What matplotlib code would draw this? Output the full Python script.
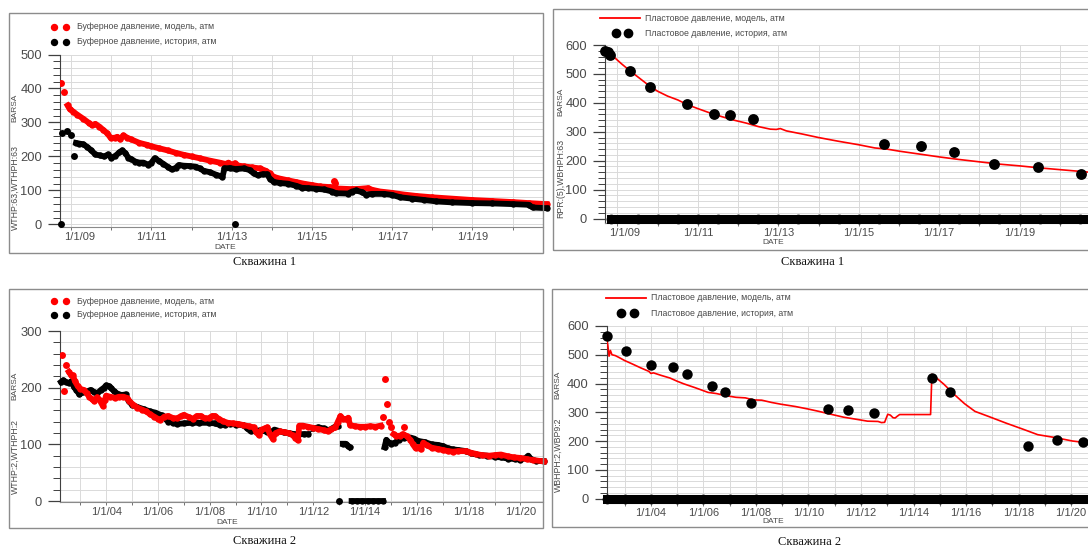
import numpy as np
import matplotlib
matplotlib.use("Agg")
import matplotlib.pyplot as plt
import matplotlib.transforms as mtransforms
from matplotlib.lines import Line2D
from matplotlib.patches import Rectangle
from matplotlib.ticker import MultipleLocator, FixedLocator, FuncFormatter

nan = np.nan
W, H = 1088, 548

# ======================= DATA (decimal years, atm) =======================
# ---- Well 1: tubing-head pressure ----
w1_thp_model_t = [2008.91, 2008.96, 2009.05, 2009.15, 2009.30, 2009.45, 2009.52, 2009.60, 2009.70, 2009.80,
                  2009.90, 2009.98, 2010.08, 2010.15, 2010.22, 2010.30, 2010.40, 2010.50, 2010.70, 2010.90,
                  2011.00, 2011.20, 2011.40, 2011.60, 2011.80, 2012.00, 2012.20, 2012.45, 2012.70, 2012.85,
                  2012.92, 2013.00, 2013.08, 2013.12, 2013.30, 2013.50, 2013.70, 2013.85, 2013.95, 2014.05,
                  2014.20, 2014.40, 2014.60, 2014.80, 2015.00, 2015.20, 2015.45, 2015.60, 2015.80, 2016.00,
                  2016.20, 2016.40, 2016.50, 2016.70, 2017.00, 2017.30, 2017.60, 2018.00, 2018.50, 2019.00,
                  2019.50, 2020.00, 2020.40, 2020.85]
w1_thp_model_v = [350, 340, 332, 323, 311, 298, 292, 296, 288, 278,
                  268, 255, 255, 258, 250, 262, 255, 250, 240, 234,
                  230, 224, 218, 211, 205, 200, 195, 188, 182, 178,
                  182, 176, 180, 174, 171, 168, 165, 158, 150, 140,
                  135, 130, 125, 120, 116, 112, 110, 106, 105, 104,
                  105, 107, 102, 97, 93, 88, 84, 80, 76, 72,
                  69, 66, 63, 60]
w1_thp_model_single_t = [2008.75, 2008.83, 2015.55, 2015.58]
w1_thp_model_single_v = [415, 390, 128, 122]

w1_thp_hist_t = [2009.12, 2009.20, 2009.30, 2009.40, 2009.50, 2009.60, 2009.72, 2009.82, 2009.92, 2010.00,
                 2010.10, 2010.20, 2010.27, 2010.35, 2010.42, 2010.50, 2010.60, 2010.70, 2010.80, 2010.92,
                 2011.00, 2011.08, 2011.20, 2011.30, 2011.40, 2011.50, 2011.60, 2011.68, 2011.80, 2011.95,
                 2012.10, 2012.20, 2012.30, 2012.45, 2012.60, 2012.77, 2012.82, 2012.95, 2013.10, 2013.30,
                 2013.45, 2013.55, 2013.65, 2013.78, 2013.88, 2013.95, 2014.05, 2014.20, 2014.40, 2014.60,
                 2014.75, 2014.90, 2015.10, 2015.30, 2015.50, 2015.60, 2015.90, 2016.00, 2016.10, 2016.25,
                 2016.35, 2016.50, 2016.80, 2017.00, 2017.20, 2017.50, 2017.80, 2018.10, 2018.50, 2019.00,
                 2019.50, 2020.00, 2020.40, 2020.50, 2020.85]
w1_thp_hist_v = [240, 238, 236, 228, 218, 206, 203, 200, 206, 196,
                 202, 212, 218, 210, 197, 192, 185, 182, 182, 176,
                 182, 195, 186, 178, 170, 162, 166, 175, 173, 172,
                 170, 165, 158, 154, 147, 140, 165, 166, 163, 165,
                 160, 150, 145, 148, 148, 135, 125, 122, 120, 114,
                 108, 107, 105, 103, 97, 92, 91, 97, 100, 95,
                 88, 90, 90, 87, 80, 76, 72, 68, 65, 63,
                 62, 60, 58, 50, 48]
w1_thp_hist_single_t = [2008.75, 2008.78, 2008.89, 2009.00, 2009.07, 2013.08]
w1_thp_hist_single_v = [0, 268, 275, 262, 200, 0]

# ---- Well 1: reservoir pressure ----
w1_rp_model_t = [2008.70, 2008.90, 2009.10, 2009.30, 2009.55, 2009.80, 2010.00, 2010.25, 2010.50, 2010.75,
                 2011.00, 2011.30, 2011.60, 2011.90, 2012.20, 2012.50, 2012.80, 2012.95, 2013.05, 2013.20,
                 2013.60, 2014.00, 2014.50, 2015.00, 2015.40, 2015.70, 2016.00, 2016.50, 2017.00, 2017.50,
                 2018.00, 2018.50, 2019.00, 2019.50, 2020.00, 2020.50, 2020.90]
w1_rp_model_v = [582, 560, 535, 512, 485, 458, 440, 423, 410, 393,
                 380, 365, 352, 340, 330, 318, 309, 308, 311, 303,
                 292, 280, 267, 255, 244, 240, 233, 223, 213, 204,
                 196, 188, 182, 175, 169, 163, 158]
w1_rp_hist_t = [2008.70, 2008.76, 2008.82, 2009.30, 2009.80, 2010.72, 2011.39, 2011.81, 2012.38,
                2015.63, 2016.55, 2017.37, 2018.37, 2019.45, 2020.53]
w1_rp_hist_v = [580, 577, 565, 510, 455, 396, 362, 357, 345,
                259, 251, 231, 188, 178, 155]
w1_rp_hist_zero_t = [2008.85, 2009.5, 2010.0, 2010.5, 2011.0, 2011.5, 2012.0, 2012.5, 2013.0, 2013.5,
                     2014.0, 2014.5, 2015.0, 2015.5, 2016.0, 2016.5, 2017.0, 2017.5, 2018.0, 2018.5,
                     2019.0, 2019.5, 2020.0, 2020.5, 2020.95]
w1_rp_hist_zero_v = [0] * 25

# ---- Well 2: tubing-head pressure ----
w2_thp_model_t = [2002.56, 2002.65, 2002.72, 2002.79, 2002.90, 2003.00, 2003.13, 2003.25, 2003.35, 2003.45,
                  2003.55, 2003.65, 2003.75, 2003.87, 2003.95, 2004.00, 2004.15, 2004.35, 2004.50, 2004.67,
                  2004.80, 2004.90, 2005.05, 2005.20, 2005.40, 2005.55, 2005.70, 2005.85, 2006.00, 2006.10,
                  2006.25, 2006.40, 2006.60, 2006.75, 2006.90, 2007.00, 2007.20, 2007.36, 2007.50, 2007.65,
                  2007.80, 2007.96, 2008.10, 2008.20, 2008.35, 2008.50, 2008.70, 2008.90, 2009.10, 2009.30,
                  2009.50, 2009.70, 2009.80, 2009.90, 2010.00, 2010.12, 2010.23, 2010.32, 2010.43, 2010.55,
                  2010.70, 2010.90, 2011.05, 2011.20, 2011.30, 2011.40, 2011.46, 2011.60, 2011.80, 2012.00,
                  2012.20, 2012.40, 2012.55, 2012.70, 2012.85, 2012.95, 2013.05, 2013.15, 2013.27, 2013.35,
                  2013.42, 2013.60, 2013.80, 2014.00, 2014.20, 2014.40, 2014.60, 2014.65,
                  2015.10, 2015.20, 2015.35, 2015.45, 2015.60, 2015.75, 2015.85, 2015.95, 2016.05, 2016.15,
                  2016.25, 2016.40, 2016.57, 2016.80, 2017.00, 2017.20, 2017.40, 2017.60, 2017.90, 2018.10,
                  2018.30, 2018.50, 2018.80, 2019.00, 2019.25, 2019.50, 2019.75, 2020.00, 2020.25, 2020.50,
                  2020.90]
w2_thp_model_v = [228, 222, 222, 212, 203, 198, 196, 190, 184, 180,
                  176, 183, 178, 168, 178, 186, 184, 182, 184, 184,
                  182, 176, 170, 165, 161, 158, 153, 149, 145, 143,
                  149, 150, 146, 146, 150, 152, 148, 145, 150, 150,
                  146, 146, 150, 150, 145, 141, 138, 137, 136, 134,
                  132, 130, 122, 116, 126, 128, 130, 118, 110, 120,
                  123, 121, 120, 116, 112, 107, 133, 133, 131, 129,
                  127, 125, 123, 127, 130, 140, 150, 145, 144, 147,
                  134, 132, 131, 131, 132, 131, 133, nan,
                  118, 115, 115, 118, 115, 108, 100, 93, 95, 91,
                  103, 98, 94, 92, 90, 88, 87, 88, 88, 85,
                  83, 81, 80, 81, 82, 79, 77, 76, 74, 72,
                  70]
w2_thp_model_single_t = [2002.29, 2002.39, 2002.45, 2014.69, 2014.75, 2014.83, 2014.93, 2015.02, 2015.52]
w2_thp_model_single_v = [258, 195, 240, 148, 215, 172, 140, 130, 130]

w2_thp_hist_t = [2002.26, 2002.35, 2002.45, 2002.55, 2002.66, 2002.75, 2002.85, 2002.97, 2003.10, 2003.25,
                 2003.40, 2003.55, 2003.66, 2003.80, 2003.92, 2004.00, 2004.10, 2004.20, 2004.30, 2004.45,
                 2004.60, 2004.75, 2004.87, 2005.00, 2005.20, 2005.45, 2005.70, 2005.90, 2006.15, 2006.30,
                 2006.40, 2006.60, 2006.75, 2007.00, 2007.30, 2007.60, 2007.96, 2008.20, 2008.40, 2008.60,
                 2008.80, 2009.00, 2009.30, 2009.45, 2009.58, 2009.80, 2009.98, 2010.20, 2010.39, 2010.50,
                 2010.64, 2010.85, 2011.05, 2011.25, 2011.46, 2011.65, 2011.80, 2011.90,
                 2012.00, 2012.20, 2012.40, 2012.60, 2012.80, 2012.95, 2013.05,
                 2013.14, 2013.25, 2013.35, 2013.40, 2013.44,
                 2013.48, 2013.70, 2013.90, 2014.10, 2014.30, 2014.50, 2014.69, 2014.72,
                 2014.75, 2014.82, 2014.90, 2015.00, 2015.15, 2015.30, 2015.50, 2015.75, 2015.90, 2016.05,
                 2016.30, 2016.57, 2016.80, 2017.00, 2017.20, 2017.40, 2017.60, 2017.90, 2018.10, 2018.40,
                 2018.70, 2019.00, 2019.25, 2019.50, 2019.80, 2020.00, 2020.20, 2020.30, 2020.40, 2020.60,
                 2020.90]
w2_thp_hist_v = [210, 213, 210, 208, 211, 202, 196, 188, 192, 193,
                 196, 192, 190, 196, 200, 204, 203, 199, 194, 189,
                 187, 188, 176, 170, 166, 162, 158, 156, 151, 145,
                 140, 138, 136, 137, 138, 138, 138, 137, 134, 135,
                 136, 135, 134, 128, 123, 124, 125, 122, 122, 126,
                 124, 121, 120, 118, 118, 118, 118, nan,
                 128, 130, 128, 125, 130, 132, nan,
                 101, 101, 97, 95, nan,
                 0, 0, 0, 0, 0, 0, 0, nan,
                 95, 108, 104, 101, 103, 108, 112, 112, 110, 106,
                 104, 100, 99, 97, 93, 91, 90, 88, 84, 81,
                 80, 78, 77, 75, 74, 73, 76, 80, 74, 71,
                 70]
w2_thp_hist_single_t = [2013.00]
w2_thp_hist_single_v = [0]

# ---- Well 2: reservoir pressure ----
w2_rp_model_t = [2002.31, 2002.36, 2002.41, 2002.46, 2002.52, 2002.65, 2002.80, 2003.00, 2003.27, 2003.60,
                 2003.93, 2004.00, 2004.10, 2004.40, 2004.73, 2005.00, 2005.25, 2005.70, 2006.18, 2006.50,
                 2006.84, 2007.24, 2007.60, 2007.90, 2008.22, 2008.60, 2008.95, 2009.50, 2010.00, 2010.40,
                 2010.67, 2011.00, 2011.33, 2011.86, 2012.25, 2012.65, 2012.78, 2012.90, 2013.02, 2013.12,
                 2013.22, 2013.30, 2013.38, 2013.47, 2014.00, 2014.65, 2014.70, 2014.80, 2015.15, 2015.55,
                 2015.94, 2016.34, 2016.87, 2017.53, 2018.20, 2018.73, 2019.39, 2020.05, 2020.95]
w2_rp_model_v = [560, 535, 495, 515, 500, 497, 490, 480, 469, 455,
                 442, 435, 437, 428, 419, 408, 399, 385, 369, 365,
                 358, 352, 350, 343, 342, 334, 328, 320, 311, 303,
                 297, 290, 283, 275, 269, 268, 264, 265, 293, 290,
                 281, 280, 286, 292, 292, 292, 432, 425, 398, 362,
                 330, 303, 285, 262, 240, 222, 212, 200, 190]
w2_rp_hist_t = [2002.35, 2003.07, 2004.00, 2004.83, 2005.39, 2006.34, 2006.82, 2007.83, 2010.73, 2011.49,
                2012.49, 2014.72, 2015.38, 2018.36, 2019.45, 2020.44]
w2_rp_hist_v = [565, 512, 466, 457, 432, 392, 370, 331, 311, 308,
                296, 420, 370, 184, 205, 198]
w2_rp_hist_zero_t = [2002.32, 2003.0, 2004.0, 2005.0, 2006.0, 2007.0, 2008.0, 2009.0, 2010.0, 2011.0,
                     2012.0, 2013.0, 2014.0, 2015.0, 2016.0, 2017.0, 2018.0, 2019.0, 2020.0, 2021.0]
w2_rp_hist_zero_v = [0] * 20

# ---- texts ----
leg_thp_model = "Буферное давление, модель, атм"
leg_thp_hist = "Буферное давление, история, атм"
leg_rp_model = "Пластовое давление, модель, атм"
leg_rp_hist = "Пластовое давление, история, атм"
ylab = ["WTHP:63,WTHPH:63", "RPR:(5),WBHPH:63", "WTHP:2,WTHPH:2", "WBHPH:2,WBP9:2"]
captions = ["Скважина 1", "Скважина 1", "Скважина 2", "Скважина 2"]

# ======================= FIGURE =======================
SANS = ["Liberation Sans", "DejaVu Sans"]
SERIF = ["Liberation Serif", "DejaVu Serif"]
TXT = "#4a4a4a"
GRID = "#dadada"
RED = "#ff0000"

fig = plt.figure(figsize=(W / 100, H / 100), dpi=100)
fig.patch.set_facecolor("white")


def fx(x):
    return x / W


def fy(y):
    return 1 - y / H


def frame(x0, y0, x1, y1):
    fig.add_artist(Rectangle((fx(x0), fy(y1)), (x1 - x0) / W, (y1 - y0) / H,
                             transform=fig.transFigure, fill=False, ec="#8c8c8c", lw=1.0))


def make_axes(x0, x1, y_top, y_zero, vmax, vmin, xlim0, xlim1, lab_years, ylabel,
              date_xy, lab_x, barsa_y, ylab_y, caption_xy, caption, first_shift=0):
    ppu = (y_zero - y_top) / vmax
    y_bot = y_zero + (-vmin) * ppu
    ax = fig.add_axes([fx(x0), fy(y_bot), (x1 - x0) / W, (y_bot - y_top) / H])
    ax.set_xlim(xlim0, xlim1)
    ax.set_ylim(vmin, vmax)
    for s in ("top", "right"):
        ax.spines[s].set_visible(False)
    ax.spines["left"].set_color("#404040")
    ax.spines["bottom"].set_color("#8a8a8a")
    ax.yaxis.set_major_locator(MultipleLocator(100))
    ax.yaxis.set_minor_locator(MultipleLocator(20))
    ax.xaxis.set_major_locator(FixedLocator(lab_years))
    ax.xaxis.set_minor_locator(MultipleLocator(1))
    ax.xaxis.set_major_formatter(FuncFormatter(lambda v, p: "1/1/%02d" % (int(round(v)) % 100)))
    ax.tick_params(axis="y", which="major", length=8.4, width=0.9, color="#404040", pad=4.5,
                   labelsize=9.3, labelcolor=TXT)
    ax.tick_params(axis="y", which="minor", length=4.8, width=0.7, color="#404040")
    ax.tick_params(axis="x", which="both", length=2.5, width=0.7, color="#707070", pad=1,
                   labelsize=8, labelcolor=TXT)
    for lab in ax.get_xticklabels() + ax.get_yticklabels():
        lab.set_family(SANS)
    if first_shift:
        t0 = ax.xaxis.get_major_ticks()[0].label1
        t0.set_transform(t0.get_transform() +
                         mtransforms.ScaledTranslation(first_shift / 100, 0, fig.dpi_scale_trans))
    ax.grid(True, which="both", axis="both", color=GRID, lw=0.7)
    ax.set_axisbelow(True)
    fig.text(fx(lab_x), fy(barsa_y), "BARSA", rotation=90,
             ha="center", va="center", fontsize=6, color=TXT, family=SANS)
    fig.text(fx(lab_x), fy(ylab_y), ylabel, rotation=90,
             ha="center", va="center", fontsize=6.3, color=TXT, family=SANS)
    fig.text(fx(date_xy[0]), fy(date_xy[1]), "DATE", ha="center", va="center",
             fontsize=6, color=TXT, family=SANS)
    fig.text(fx(caption_xy[0]), fy(caption_xy[1]), caption, ha="center", va="center",
             fontsize=9, color="#111111", family=SERIF)
    return ax


def legend_dots(x_dots, y, color, size, text, x_text):
    fig.add_artist(Line2D([fx(v) for v in x_dots], [fy(y)] * len(x_dots), transform=fig.transFigure,
                          ls="none", marker="o", ms=size, mfc=color, mec=color))
    fig.text(fx(x_text), fy(y), text, ha="left", va="center", fontsize=6.3, color=TXT, family=SANS)


def legend_line(x0, x1, y, color, text, x_text):
    fig.add_artist(Line2D([fx(x0), fx(x1)], [fy(y), fy(y)], transform=fig.transFigure,
                          color=color, lw=1.3))
    fig.text(fx(x_text), fy(y), text, ha="left", va="center", fontsize=6.3, color=TXT, family=SANS)


# frames
frame(8.5, 12.7, 543.3, 253)
frame(552.5, 9.3, 1100, 250)
frame(8.5, 289, 543.3, 528)
frame(552, 289, 1100, 527)

# ---- Panel 1 ----
ax1 = make_axes(60, 543, 54.5, 224.5, 500, -8, 2008.72, 2020.76,
                [2009, 2011, 2013, 2015, 2017, 2019], ylab[0], (225, 247.5),
                15, 108, 188, (265, 262), captions[0], first_shift=8)
ax1.plot(w1_thp_model_t, w1_thp_model_v, "-o", color=RED, lw=4.2, ms=4.6, mew=0, zorder=3, clip_on=False)
ax1.plot(w1_thp_model_single_t, w1_thp_model_single_v, "o", color=RED, ms=5, mew=0, zorder=3)
ax1.plot(w1_thp_hist_t, w1_thp_hist_v, "-o", color="black", lw=4.2, ms=4.6, mew=0, zorder=4, clip_on=False)
ax1.plot(w1_thp_hist_single_t, w1_thp_hist_single_v, "o", color="black", ms=5, mew=0, zorder=4, clip_on=False)
legend_dots([54, 65.7], 26.7, RED, 4.3, leg_thp_model, 76.7)
legend_dots([54, 65.7], 41.7, "black", 4.3, leg_thp_hist, 76.7)

# ---- Panel 2 ----
ax2 = make_axes(605, 1100, 45, 218.5, 600, -15, 2008.69, 2021.0,
                [2009, 2011, 2013, 2015, 2017, 2019], ylab[1], (773, 242.5),
                561, 102, 178, (813, 262), captions[1], first_shift=7)
ax2.plot(w1_rp_model_t, w1_rp_model_v, "-", color=RED, lw=1.2, zorder=3)
ax2.plot(w1_rp_hist_t, w1_rp_hist_v, "o", color="black", ms=7.8, mew=0, zorder=4, clip_on=False)
ax2.plot(w1_rp_hist_zero_t, w1_rp_hist_zero_v, "-o", color="black", lw=6.5, ms=7, mew=0, zorder=4,
         clip_on=False)
legend_line(600, 640, 18.3, RED, leg_rp_model, 645)
legend_dots([615.7, 628.3], 33.3, "black", 6, leg_rp_hist, 645)

# ---- Panel 3 ----
ax3 = make_axes(60, 543, 331, 501, 300, -2, 2002.22, 2020.87,
                [2004, 2006, 2008, 2010, 2012, 2014, 2016, 2018, 2020], ylab[2], (227, 522),
                15, 386, 456, (265, 541), captions[2])
ax3.plot(w2_thp_hist_t, w2_thp_hist_v, "-o", color="black", lw=4.2, ms=4.6, mew=0, zorder=3, clip_on=False)
ax3.plot(w2_thp_hist_single_t, w2_thp_hist_single_v, "o", color="black", ms=5, mew=0, zorder=3, clip_on=False)
ax3.plot(w2_thp_model_t, w2_thp_model_v, "-o", color=RED, lw=4.2, ms=4.6, mew=0, zorder=4, clip_on=False)
ax3.plot(w2_thp_model_single_t, w2_thp_model_single_v, "o", color=RED, ms=5, mew=0, zorder=4)
legend_dots([54, 65.7], 301, RED, 4.3, leg_thp_model, 76.7)
legend_dots([54, 65.7], 314.5, "black", 4.3, leg_thp_hist, 76.7)

# ---- Panel 4 ----
ax4 = make_axes(606.7, 1100, 326, 498.5, 600, -15, 2002.32, 2021.1,
                [2004, 2006, 2008, 2010, 2012, 2014, 2016, 2018, 2020], ylab[3], (773, 521.5),
                558, 385, 455, (810, 542), captions[3])
ax4.plot(w2_rp_model_t, w2_rp_model_v, "-", color=RED, lw=1.2, zorder=3)
ax4.plot(w2_rp_hist_t, w2_rp_hist_v, "o", color="black", ms=7.5, mew=0, zorder=4, clip_on=False)
ax4.plot(w2_rp_hist_zero_t, w2_rp_hist_zero_v, "-o", color="black", lw=6.5, ms=7, mew=0, zorder=4,
         clip_on=False)
legend_line(606, 646, 298, RED, leg_rp_model, 651)
legend_dots([621, 634], 313, "black", 6, leg_rp_hist, 651)

fig.savefig("out.png", dpi=100, facecolor="white")
